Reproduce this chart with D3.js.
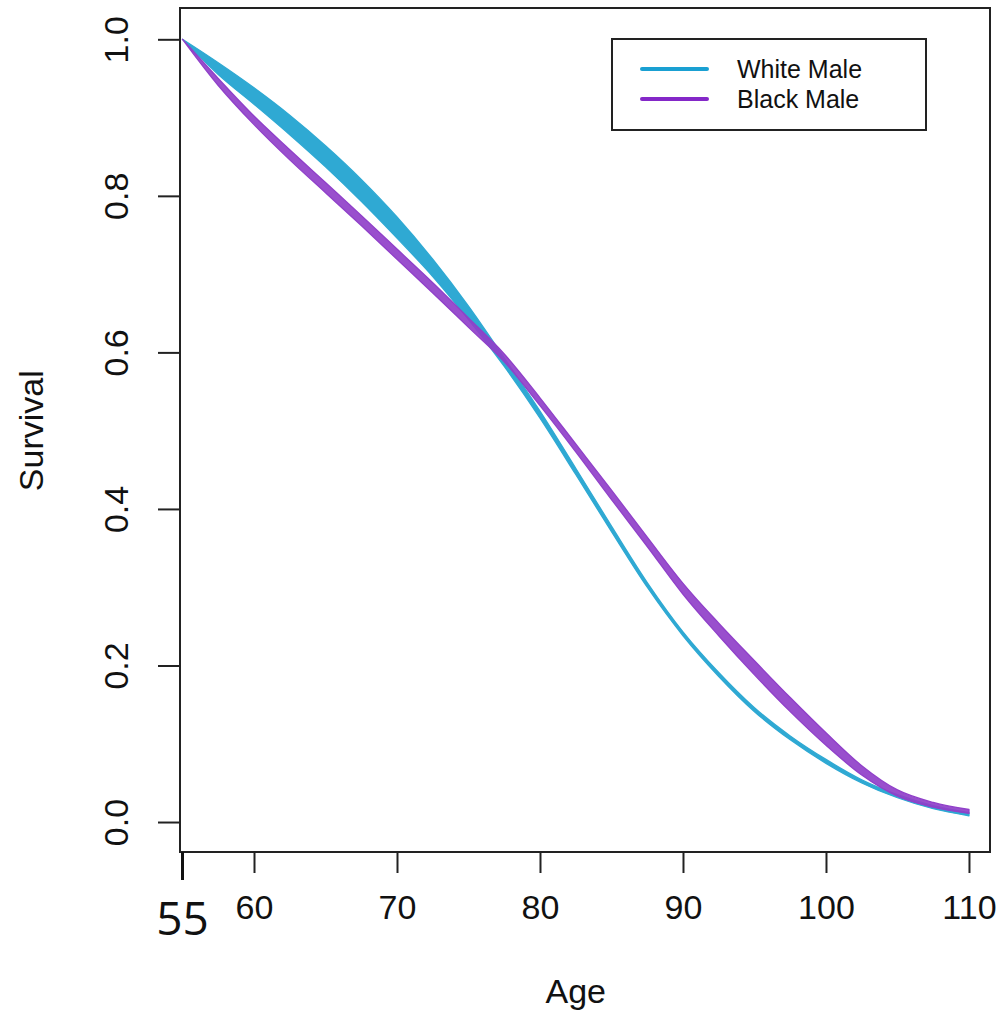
<!DOCTYPE html>
<html>
<head>
<meta charset="utf-8">
<title>Survival by Age</title>
<script src="https://cdn.jsdelivr.net/npm/d3@7"></script>
<style>
  body { margin: 0; background: #fff; }
  text { font-family: "Liberation Sans", Arial, Helvetica, sans-serif; fill: #111; }
</style>
</head>
<body>
<script>
// values (band = lower/upper edge of each group)
var ages       = [55, 57.5, 60, 62.5, 65, 67.5, 70, 72.5, 75, 77.5, 80, 82.5, 85, 87.5, 90, 92.5, 95, 97.5, 100, 102.5, 105, 107.5, 110];
var whiteUpper = [1.0, 0.970, 0.938, 0.903, 0.864, 0.821, 0.773, 0.719, 0.659, 0.593, 0.525, 0.452, 0.378, 0.306, 0.243, 0.191, 0.146, 0.110, 0.080, 0.054, 0.035, 0.021, 0.012];
var whiteLower = [1.0, 0.955, 0.917, 0.878, 0.837, 0.793, 0.746, 0.697, 0.642, 0.582, 0.516, 0.444, 0.371, 0.300, 0.238, 0.186, 0.141, 0.105, 0.075, 0.050, 0.031, 0.017, 0.008];
var blackUpper = [1.0, 0.950, 0.902, 0.859, 0.817, 0.775, 0.732, 0.689, 0.644, 0.598, 0.542, 0.483, 0.424, 0.364, 0.305, 0.254, 0.206, 0.159, 0.114, 0.072, 0.041, 0.025, 0.016];
var blackLower = [1.0, 0.941, 0.891, 0.846, 0.804, 0.762, 0.719, 0.676, 0.632, 0.588, 0.532, 0.473, 0.412, 0.352, 0.291, 0.238, 0.188, 0.141, 0.098, 0.060, 0.033, 0.019, 0.011];

var xTicks = [60, 70, 80, 90, 100, 110];
var yTicks = [0, 0.2, 0.4, 0.6, 0.8, 1.0];
var seriesNames = ["White Male", "Black Male"];
var seriesColors = ["#2fa9d3", "#9040c9"];
var legendColors = ["#1aa0d2", "#8428c8"];

var width = 1004, height = 1013,
    margins = {top: 8, left: 180, right: 14, bottom: 161};

var x = d3.scaleLinear().domain([54.825, 111.47]).range([margins.left, width - margins.right]);
var y = d3.scaleLinear().domain([-0.0383, 1.04]).range([height - margins.bottom, margins.top]);

var svg = d3.select("body").append("svg")
    .attr("width", width)
    .attr("height", height);

function bandRows(upper, lower) {
    return ages.map(function (a, i) {
        return {age: a, hi: upper[i], lo: lower[i]};
    });
}

var area = d3.area()
    .curve(d3.curveMonotoneX)
    .x(function (d) { return x(d.age); })
    .y0(function (d) { return y(d.lo); })
    .y1(function (d) { return y(d.hi); });

var bands = [bandRows(whiteUpper, whiteLower), bandRows(blackUpper, blackLower)];

svg.append("g").attr("class", "bands")
    .selectAll("path")
    .data(bands)
    .enter().append("path")
    .attr("d", area)
    .style("fill", function (d, i) { return seriesColors[i]; })
    .style("fill-opacity", function (d, i) { return i === 1 ? 0.92 : 1; })
    .style("stroke", function (d, i) { return seriesColors[i]; })
    .style("stroke-width", 1.3)
    .style("stroke-linejoin", "round");

// plot frame
svg.append("rect")
    .attr("x", margins.left)
    .attr("y", margins.top)
    .attr("width", width - margins.left - margins.right)
    .attr("height", height - margins.top - margins.bottom)
    .style("fill", "none")
    .style("stroke", "#222")
    .style("stroke-width", 2);

// x axis
var xAxisG = svg.append("g")
    .attr("transform", "translate(0," + (height - margins.bottom) + ")")
    .call(d3.axisBottom(x).tickValues(xTicks).tickSize(21).tickSizeOuter(0).tickPadding(22));
xAxisG.select(".domain").remove();
xAxisG.selectAll(".tick line").style("stroke", "#222").style("stroke-width", 2);
xAxisG.selectAll(".tick text")
    .style("font-size", "34px")
    .style("fill", "#111")
    .style("font-family", "'Liberation Sans', Arial, sans-serif");

// the added start tick at 55
svg.append("line")
    .attr("x1", x(55)).attr("x2", x(55))
    .attr("y1", height - margins.bottom)
    .attr("y2", height - margins.bottom + 28)
    .style("stroke", "#111")
    .style("stroke-width", 3);
svg.append("text")
    .attr("x", x(55))
    .attr("y", 935)
    .attr("text-anchor", "middle")
    .style("font-family", "'Open Sans', 'Noto Sans', sans-serif")
    .style("font-size", "46px")
    .text("55");

// y axis
var yAxisG = svg.append("g")
    .attr("transform", "translate(" + margins.left + ",0)")
    .call(d3.axisLeft(y).tickValues(yTicks).tickSize(22).tickSizeOuter(0).tickFormat(d3.format(".1f")));
yAxisG.select(".domain").remove();
yAxisG.selectAll(".tick line").style("stroke", "#222").style("stroke-width", 2);
yAxisG.selectAll(".tick text")
    .attr("x", null).attr("dy", null)
    .attr("text-anchor", "middle")
    .attr("transform", "translate(-52,0) rotate(-90)")
    .style("font-size", "34px")
    .style("fill", "#111")
    .style("font-family", "'Liberation Sans', Arial, sans-serif");

// axis titles
svg.append("text")
    .attr("x", x(82.5))
    .attr("y", 1003)
    .attr("text-anchor", "middle")
    .style("font-size", "34px")
    .text("Age");

svg.append("text")
    .attr("transform", "translate(43," + y(0.5) + ") rotate(-90)")
    .attr("text-anchor", "middle")
    .style("font-size", "34px")
    .text("Survival");

// legend
var legend = svg.append("g").attr("transform", "translate(612,39)");
legend.append("rect")
    .attr("width", 314)
    .attr("height", 91)
    .style("fill", "#fff")
    .style("stroke", "#222")
    .style("stroke-width", 2);

var items = legend.selectAll("g.item")
    .data(seriesNames)
    .enter().append("g")
    .attr("class", "item")
    .attr("transform", function (d, i) { return "translate(0," + (30 + i * 30) + ")"; });

items.append("line")
    .attr("x1", 30).attr("x2", 95)
    .style("stroke", function (d, i) { return legendColors[i]; })
    .style("stroke-width", 4)
    .style("stroke-linecap", "round");

items.append("text")
    .attr("x", 125)
    .attr("y", 9)
    .style("font-size", "25px")
    .text(function (d) { return d; });
</script>
</body>
</html>
